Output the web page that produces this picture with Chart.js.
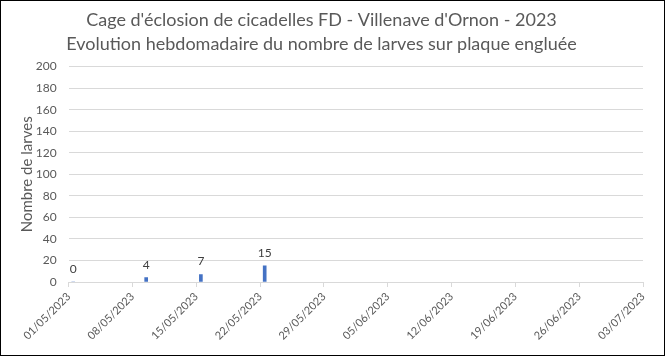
<!DOCTYPE html>
<html>
<head>
<meta charset="utf-8">
<script src="https://cdn.jsdelivr.net/npm/chart.js@4/dist/chart.umd.min.js"></script>
<style>
  html, body { margin: 0; padding: 0; background: #fff; }
  #wrap { position: relative; width: 668px; height: 357px; }
  canvas { display: block; }
</style>
</head>
<body>
<div id="wrap"><canvas id="c" width="668" height="357"></canvas></div>
<script>
// ---- data ----
const titleLines = ["Cage d'éclosion de cicadelles FD - Villenave d'Ornon - 2023",
                    "Evolution hebdomadaire du nombre de larves sur plaque engluée"];
const yAxisTitle = "Nombre de larves";
const axisStart = "01/05/2023";
const axisEnd = "03/07/2023";
const sampleDates = ["01/05/2023", "09/05/2023", "15/05/2023", "22/05/2023"];
const larvae = [0, 4, 7, 15];
const yMin = 0, yMax = 200, yStep = 20;
const xStepDays = 7;

// ---- helpers ----
function parseDMY(s) {
  const [d, m, y] = s.split('/').map(Number);
  return Date.UTC(y, m - 1, d);
}
const DAY = 86400000;
const t0 = parseDMY(axisStart);
function dayOffset(s) { return Math.round((parseDMY(s) - t0) / DAY); }
function fmt(off) {
  const dt = new Date(t0 + off * DAY);
  const p = n => String(n).padStart(2, '0');
  return p(dt.getUTCDate()) + '/' + p(dt.getUTCMonth() + 1) + '/' + dt.getUTCFullYear();
}

const gray = '#595959';
const FONT = 'Lato, "Open Sans", sans-serif';

const labelPlugin = {
  id: 'barLabels',
  afterDatasetsDraw(chart) {
    const ctx = chart.ctx;
    const meta = chart.getDatasetMeta(0);
    ctx.save();
    ctx.font = '12px ' + FONT;
    ctx.fillStyle = '#404040';
    ctx.textAlign = 'center';
    ctx.textBaseline = 'middle';
    meta.data.forEach((el, i) => {
      ctx.fillText(String(larvae[i]), el.x, el.y - 13);
    });
    ctx.restore();
  }
};
const borderPlugin = {
  id: 'outerBorder',
  afterDraw(chart) {
    const ctx = chart.ctx;
    ctx.save();
    ctx.strokeStyle = '#000';
    ctx.lineWidth = 1;
    ctx.strokeRect(0.5, 0.5, 664, 355);
    ctx.restore();
  }
};
const bgPlugin = {
  id: 'bg',
  beforeDraw(chart) {
    const ctx = chart.ctx;
    ctx.save();
    ctx.fillStyle = '#fff';
    ctx.fillRect(0, 0, chart.width, chart.height);
    ctx.restore();
  }
};

new Chart(document.getElementById('c'), {
  type: 'bar',
  data: {
    datasets: [{
      data: sampleDates.map((d, i) => ({ x: dayOffset(d) + 0.5, y: larvae[i] })),
      backgroundColor: '#4472C4',
      barThickness: 3
    }]
  },
  options: {
    responsive: false,
    animation: false,
    layout: { padding: { left: 0, right: 25, top: 8, bottom: 0 } },
    plugins: {
      legend: { display: false },
      tooltip: { enabled: false },
      title: {
        display: true,
        text: titleLines,
        color: gray,
        font: { family: FONT, size: 18, weight: 'normal', lineHeight: 1.35 },
        padding: { top: 0, bottom: 10 }
      }
    },
    scales: {
      x: {
        type: 'linear',
        min: 0,
        max: dayOffset(axisEnd),
        offset: false,
        grid: { display: true, drawOnChartArea: false, drawTicks: true, tickLength: 5, color: '#d9d9d9', offset: false },
        border: { display: true, color: '#d9d9d9' },
        ticks: {
          stepSize: xStepDays,
          autoSkip: false,
          maxRotation: 45,
          minRotation: 45,
          color: gray,
          font: { family: FONT, size: 11 },
          padding: 3,
          callback: v => fmt(v)
        },
        afterFit(scale) { scale.height = 75; }
      },
      y: {
        min: yMin,
        max: yMax,
        grid: { color: '#d9d9d9', drawTicks: false },
        border: { display: false },
        ticks: {
          stepSize: yStep,
          color: gray,
          font: { family: FONT, size: 12 },
          padding: 12
        },
        title: {
          display: true,
          text: yAxisTitle,
          color: gray,
          font: { family: FONT, size: 15 },
          padding: { top: 18, bottom: 4 }
        },
        afterFit(scale) { scale.width = 68.7; }
      }
    }
  },
  plugins: [bgPlugin, labelPlugin, borderPlugin]
});
</script>
</body>
</html>
